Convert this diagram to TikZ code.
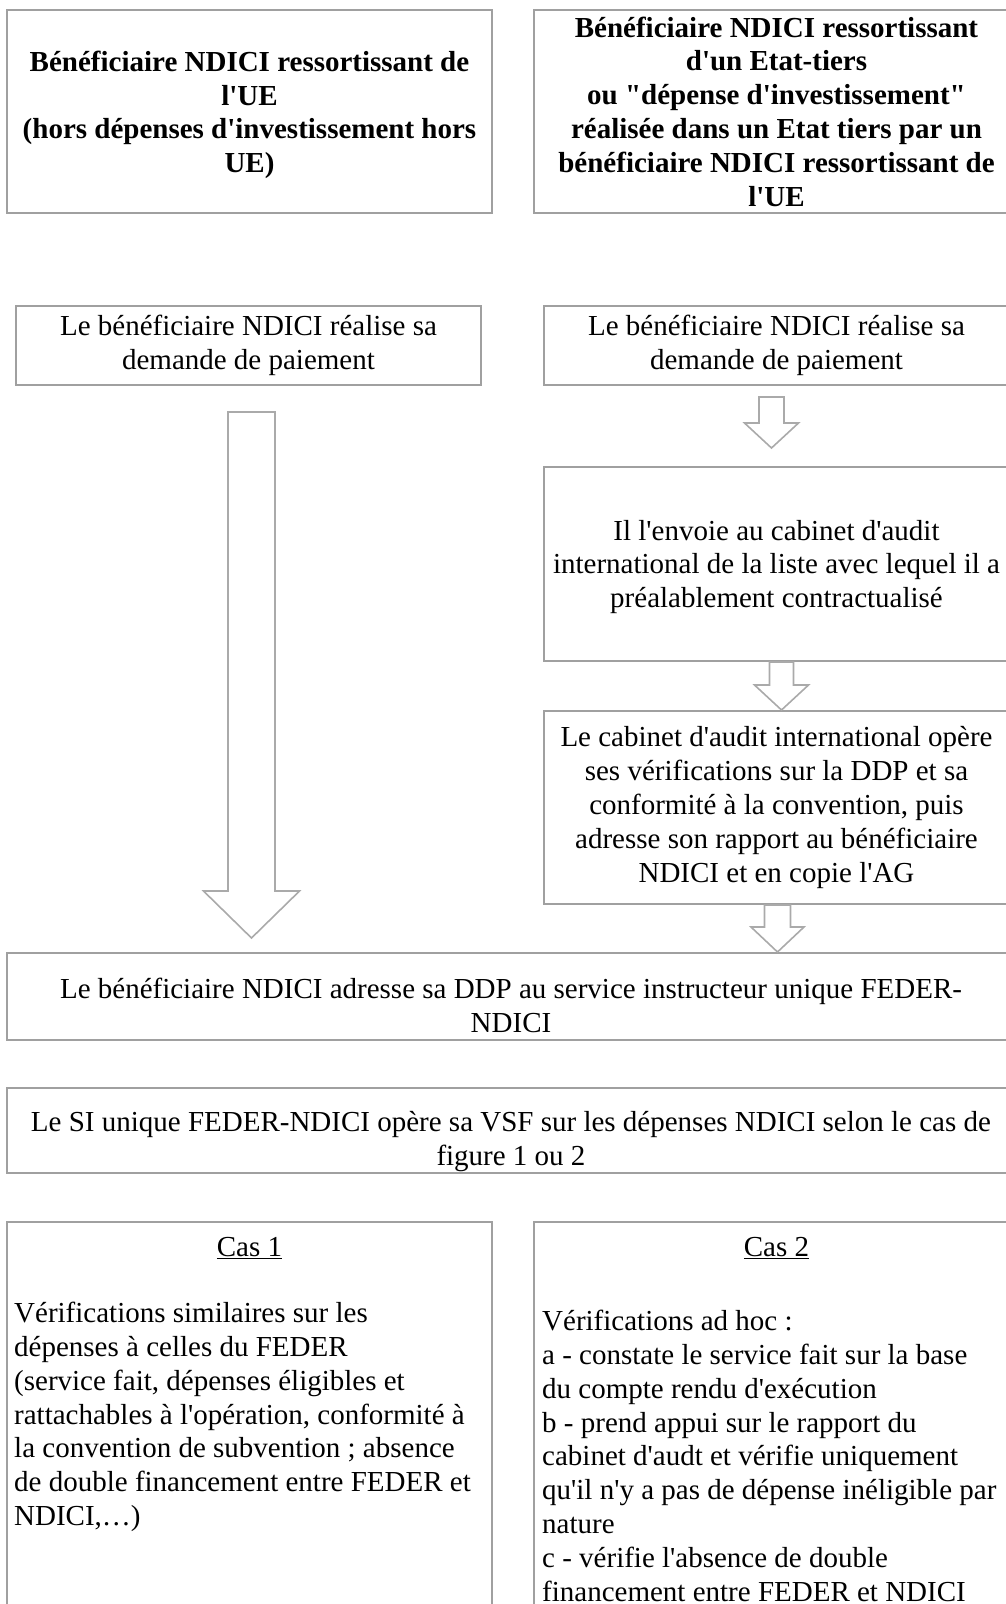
\documentclass[tikz,border=0pt]{standalone}
\usepackage{fontspec}
\setmainfont{Liberation Serif}[Ligatures=TeXOff]
\usetikzlibrary{positioning,calc}

\definecolor{gris}{RGB}{160,160,160}
\definecolor{grisfleche}{RGB}{170,170,170}

\tikzset{
  boite/.style={draw=gris, line width=2pt, align=center, inner sep=0pt, font=\fontsize{29}{33.8}\selectfont},
  texte/.style={inner sep=0pt, align=left, font=\fontsize{29}{33.8}\selectfont},
  fleche/.style={draw=grisfleche, line width=1.6pt, fill=white, line join=miter},
}

% fleche creuse : debut, pointe, demi-tige, demi-tete, longueur tete
\newcommand{\flechebloc}[5]{%
  \draw[fleche] let \p1=(#1), \p2=(#2) in
    (\x2-#3,\y1) -- (\x2-#3,\y2+#5) -- (\x2-#4,\y2+#5) -- (\x2,\y2)
    -- (\x2+#4,\y2+#5) -- (\x2+#3,\y2+#5) -- (\x2+#3,\y1) -- cycle;}

\begin{document}
\begin{tikzpicture}[x=1pt,y=1pt]
\useasboundingbox (0,0) rectangle (1006,-1604);

% en-tetes
\node[boite, font=\fontsize{29}{33.8}\selectfont\bfseries, anchor=north west, minimum width=485, minimum height=203] (ue) at (6,-9)
  {\rule{0pt}{27pt}Bénéficiaire NDICI ressortissant de\\ l'UE\\ (hors dépenses d'investissement hors\\ UE)};
\node[boite, font=\fontsize{29}{33.8}\selectfont\bfseries, anchor=north west, minimum width=485, minimum height=203] (tiers) at (533,-9)
  {Bénéficiaire NDICI ressortissant\\ d'un Etat-tiers\\ ou "dépense d'investissement"\\ réalisée dans un Etat tiers par un\\ bénéficiaire NDICI ressortissant de\\ l'UE};

% demandes de paiement
\node[boite, anchor=north west, minimum width=465, minimum height=79] (demandeG) at (15,-305)
  {Le bénéficiaire NDICI réalise sa\\ demande de paiement};
\node[boite, anchor=north west, minimum width=465, minimum height=79] (demandeD) at (543,-305)
  {Le bénéficiaire NDICI réalise sa\\ demande de paiement};

% circuit Etat tiers
\node[boite, anchor=north west, minimum width=465, minimum height=194] (envoi) at (543,-466)
  {\rule{0pt}{26pt}Il l'envoie au cabinet d'audit\\ international de la liste avec lequel il a\\ préalablement contractualisé};
\node[boite, anchor=north west, minimum width=465, minimum height=193] (cabinet) at (543,-710)
  {Le cabinet d'audit international opère\\ ses vérifications sur la DDP et sa\\ conformité à la convention, puis\\ adresse son rapport au bénéficiaire\\ NDICI et en copie l'AG};

% service instructeur
\node[boite, anchor=north west, minimum width=1008, minimum height=87] (adresse) at (6,-952)
  {\rule{0pt}{38pt}Le bénéficiaire NDICI adresse sa DDP au service instructeur unique FEDER-\\ NDICI};
\node[boite, anchor=north west, minimum width=1008, minimum height=85] (si) at (6,-1087)
  {\rule{0pt}{42pt}Le SI unique FEDER-NDICI opère sa VSF sur les dépenses NDICI selon le cas de\\ figure 1 ou 2};

% les deux cas
\node[boite, anchor=north west, minimum width=485, minimum height=420] (cas1) at (6,-1221) {};
\node[boite, anchor=north west, minimum width=485, minimum height=420] (cas2) at (533,-1221) {};
\node[texte, anchor=base] (titre1) at ($(cas1.north)+(0,-35)$) {\underline{Cas 1}};
\node[texte, anchor=base] (titre2) at ($(cas2.north)+(0,-35)$) {\underline{Cas 2}};
\node[texte, anchor=north west] (corps1) at ($(cas1.north west)+(8,-81)$)
  {Vérifications similaires sur les\\ dépenses à celles du FEDER\\ (service fait, dépenses éligibles et\\ rattachables à l'opération, conformité à\\ la convention de subvention ; absence\\ de double financement entre FEDER et\\ NDICI,…)};
\node[texte, anchor=north west] (corps2) at ($(cas2.north west)+(9,-89)$)
  {Vérifications ad hoc :\\ a - constate le service fait sur la base\\ du compte rendu d'exécution\\ b - prend appui sur le rapport du\\ cabinet d'audt et vérifie uniquement\\ qu'il n'y a pas de dépense inéligible par\\ nature\\ c - vérifie l'absence de double\\ financement entre FEDER et NDICI};

% fleches
\coordinate (f0a) at ($(demandeG.south)+(3,-26)$);
\coordinate (f0b) at ($(f0a |- adresse.north)+(0,14)$);
\coordinate (f1a) at ($(demandeD.south)+(-5,-11)$);
\coordinate (f1b) at ($(f1a |- envoi.north)+(0,18)$);
\coordinate (f2a) at ($(envoi.south)+(5,0)$);
\coordinate (f2b) at (f2a |- cabinet.north);
\coordinate (f3a) at ($(cabinet.south)+(1,0)$);
\coordinate (f3b) at (f3a |- adresse.north);

\flechebloc{f0a}{f0b}{23.5pt}{48pt}{47pt}
\flechebloc{f1a}{f1b}{12.5pt}{27pt}{25pt}
\flechebloc{f2a}{f2b}{12pt}{27pt}{25pt}
\flechebloc{f3a}{f3b}{13pt}{26.5pt}{25pt}

\end{tikzpicture}
\end{document}
